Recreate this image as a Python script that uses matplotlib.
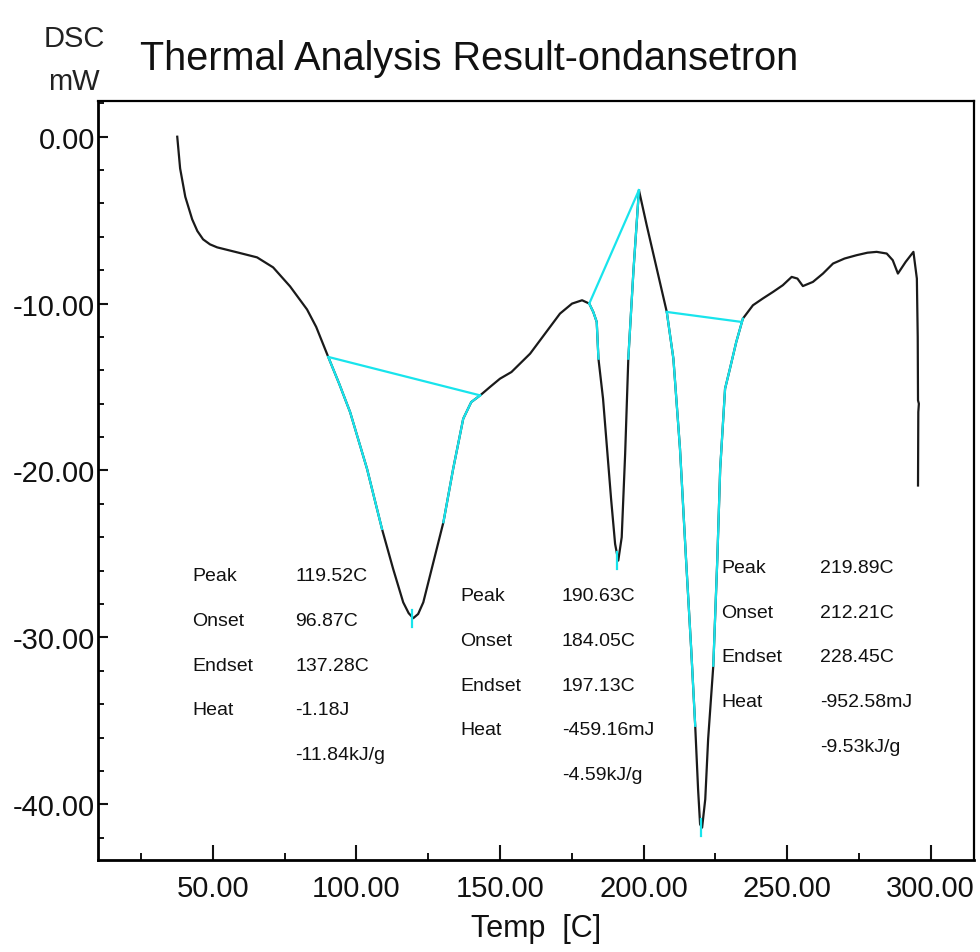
import numpy as np
import matplotlib
matplotlib.use("Agg")
import matplotlib.pyplot as plt
from matplotlib.ticker import MultipleLocator, FormatStrFormatter

plt.rcParams['font.family'] = ['Liberation Sans', 'DejaVu Sans']
plt.rcParams['axes.unicode_minus'] = False

# ---- DSC curve (Temp [C], DSC [mW]) ----
temp = [37.6, 38.6, 40.4, 42.8, 44.6, 46.6, 49.0, 51.5, 58.5, 65.4, 71.0, 76.9, 82.8, 86.0, 90.2,
        94.0, 97.8, 103.7, 108.9, 112.8, 116.3, 118.2, 119.8, 121.5, 123.3, 126.8, 130.3, 133.7,
        137.2, 140.0, 143.1, 146.5, 150.0, 154.0, 160.5, 165.7, 170.9, 175.1, 178.6, 181.1, 182.5,
        183.7, 184.3, 185.9, 187.3, 188.7, 190.1, 191.2, 192.4, 193.6, 194.7, 196.5,
        198.4, 201.1, 204.6, 208.1, 210.4, 212.7, 214.8, 216.6, 218.0, 219.0, 219.7,
        220.4, 221.5, 222.5, 224.3, 225.7, 226.7, 228.4, 230.1, 232.3, 234.6, 238.1, 241.5,
        245.1, 248.5, 251.6, 253.6, 255.5, 259.0, 262.5, 266.0, 270.0, 274.2, 278.0, 281.2,
        284.7, 286.8, 288.6, 291.3, 294.0, 295.2, 295.5, 295.6, 295.9, 295.7, 295.6]
dsc = [0.0, -1.9, -3.6, -4.95, -5.65, -6.15, -6.45, -6.63, -6.93, -7.23, -7.83, -8.97, -10.35,
       -11.4, -13.2, -14.8, -16.5, -19.9, -23.5, -25.9, -27.9, -28.55, -28.85, -28.6, -27.9,
       -25.5, -23.1, -19.9, -16.9, -15.9, -15.5, -15.0, -14.5, -14.1, -13.0, -11.8, -10.6,
       -10.0, -9.8, -10.0, -10.5, -11.1, -13.3, -15.7, -18.7, -21.7, -24.4, -25.4, -24.0,
       -19.0, -13.3, -8.0, -3.2, -5.3, -7.9, -10.5, -13.3, -18.7, -25.3, -30.7, -35.3,
       -39.1, -41.2, -41.4, -39.7, -36.1, -31.7, -25.3, -19.9, -15.1, -13.9, -12.3, -10.9,
       -10.1, -9.7, -9.3, -8.9, -8.4, -8.5, -8.95, -8.7, -8.2, -7.6, -7.3, -7.1, -6.95,
       -6.9, -7.0, -7.4, -8.2, -7.5, -6.9, -8.5, -12.0, -15.8, -16.0, -16.5, -20.9]

# ---- integration baselines ----
base_x = [[90.3, 143.1], [181.1, 198.4], [208.1, 234.2]]
base_y = [[-13.2, -15.5], [-10.0, -3.2], [-10.5, -11.1]]
# curve spans highlighted in cyan
cyan_ranges = [(90.2, 108.9), (130.3, 143.1), (181.1, 184.3), (194.7, 198.4),
               (208.1, 218.0), (224.3, 234.6)]
# peak markers
peak_x = [119.52, 190.63, 219.89]
peak_y = [-28.85, -25.4, -41.4]

# ---- annotation blocks ----
row_labels = ["Peak", "Onset", "Endset", "Heat", ""]
block_values = [["119.52C", "96.87C", "137.28C", "-1.18J", "-11.84kJ/g"],
                ["190.63C", "184.05C", "197.13C", "-459.16mJ", "-4.59kJ/g"],
                ["219.89C", "212.21C", "228.45C", "-952.58mJ", "-9.53kJ/g"]]
block_label_x = [42.8, 136.1, 227.0]
block_value_x = [78.7, 171.6, 261.5]
block_top_y = [-26.3, -27.5, -25.8]
row_step = 2.68

x_ticks = [50, 100, 150, 200, 250, 300]
y_ticks = [0, -10, -20, -30, -40]

CYAN = '#18e4ec'
fig = plt.figure(figsize=(9.8, 9.53), dpi=100)
ax = fig.add_axes([98/980, 1-861/953, (974-98)/980, (861-102)/953])

ax.plot(temp, dsc, color='#1a1a1a', lw=1.6, zorder=3, solid_joinstyle='round')

t = np.array(temp)
d = np.array(dsc)
mono = t[:-6], d[:-6]
for x0, x1 in cyan_ranges:
    inside = (t > x0) & (t < x1)
    xs = np.concatenate([[x0], t[inside], [x1]])
    ys = np.concatenate([[np.interp(x0, *mono)], d[inside], [np.interp(x1, *mono)]])
    ax.plot(xs, ys, color=CYAN, lw=1.6, zorder=4)
for bx, by in zip(base_x, base_y):
    ax.plot(bx, by, color=CYAN, lw=1.6, zorder=4)
for px, py in zip(peak_x, peak_y):
    ax.plot([px, px], [py + 0.5, py - 0.5], color=CYAN, lw=1.6, zorder=5)

for lx, vx, ty, vals in zip(block_label_x, block_value_x, block_top_y, block_values):
    for i, (lab, val) in enumerate(zip(row_labels, vals)):
        yy = ty - i * row_step
        if lab:
            ax.text(lx, yy, lab, fontsize=14, ha='left', va='center', color='#111')
        ax.text(vx, yy, val, fontsize=14, ha='left', va='center', color='#111')

ax.set_xlim(10, 315.1)
ax.set_ylim(-43.34, 2.14)
ax.set_xticks(x_ticks)
ax.set_yticks(y_ticks)
ax.xaxis.set_minor_locator(MultipleLocator(25))
ax.yaxis.set_minor_locator(MultipleLocator(2))
ax.xaxis.set_major_formatter(FormatStrFormatter('%.2f'))
ax.yaxis.set_major_formatter(FormatStrFormatter('%.2f'))
ax.tick_params(which='major', direction='in', length=11, width=1.5, labelsize=21,
               colors='#111')
ax.tick_params(which='minor', direction='in', length=5, width=1.3)
ax.tick_params(axis='y', which='major', pad=2)
ax.tick_params(axis='x', which='major', pad=10)
ax.tick_params(axis='y', which='major', length=7)
ax.tick_params(axis='y', which='minor', length=4)
for s in ['left', 'bottom']:
    ax.spines[s].set_linewidth(2.0)
for s in ['top', 'right']:
    ax.spines[s].set_linewidth(1.6)

fig.text(140/980, 1-70/953, "Thermal Analysis Result-ondansetron", fontsize=28.5,
         ha='left', va='baseline', color='#111')
fig.text(74/980, 1-47/953, "DSC", fontsize=21, ha='center', va='baseline', color='#222')
fig.text(74/980, 1-90/953, "mW", fontsize=21, ha='center', va='baseline', color='#222')
fig.text(536/980, 1-937/953, "Temp  [C]", fontsize=22, ha='center', va='baseline', color='#111')

fig.savefig("out.png", dpi=100, facecolor='white')
